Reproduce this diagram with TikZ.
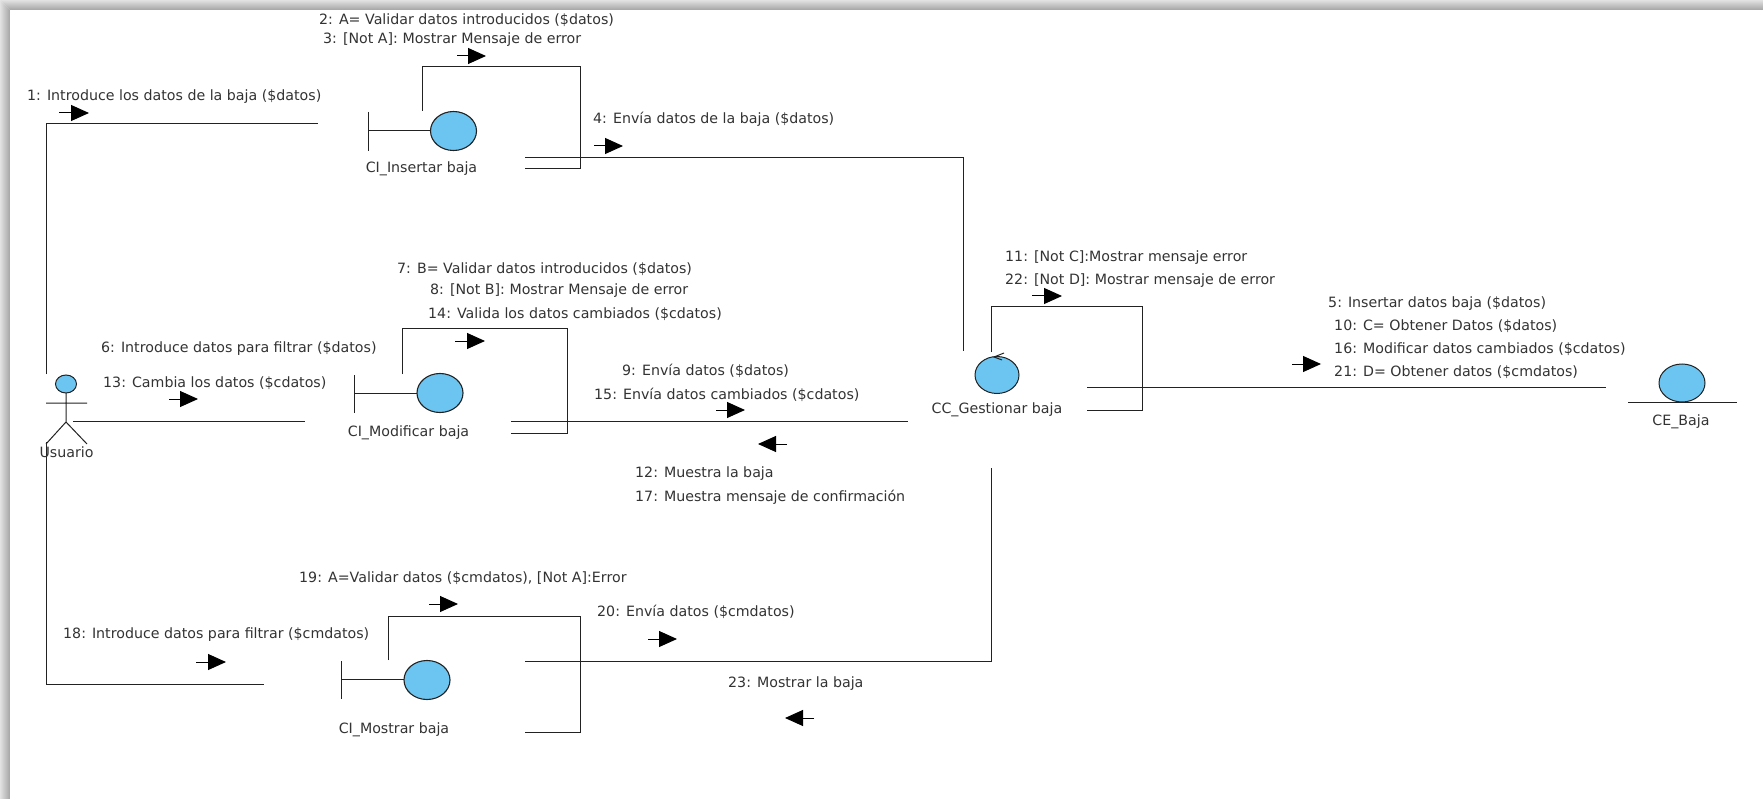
\documentclass[tikz,border=0pt]{standalone}
\usepackage{fontspec}
\setmainfont{DejaVu Sans}
\usetikzlibrary{arrows.meta,shadings}
\definecolor{obj}{HTML}{6CC5F0}
\definecolor{ink}{HTML}{222222}
\definecolor{txt}{HTML}{333333}
\definecolor{bandout}{HTML}{E2E2E2}
\definecolor{bandin}{HTML}{A4A4A4}
\tikzset{
 x=1pt,y=-1pt,
 wire/.style={draw=ink,line width=1pt},
 lbl/.style={font=\fontsize{14.2}{16}\selectfont,text=txt,inner sep=0pt,anchor=west},
 dirar/.style={draw=black,line width=1pt,-{Triangle[length=18pt,width=16pt]}},
}
\newcommand{\objell}[3]{\path[draw=ink,line width=1.1pt,fill=obj] (#1,#2) ellipse [x radius=#3,y radius=19.5];}
\begin{document}
\begin{tikzpicture}
\useasboundingbox (0,0) rectangle (1763,799);
% frame shadow
\fill[white] (0,0) rectangle (1763,799);
\begin{scope}
\clip (0,0) -- (1763,0) -- (1763,10) -- (10,10) -- cycle;
\shade[top color=bandout,bottom color=bandin] (0,0) rectangle (1763,10);
\end{scope}
\begin{scope}
\clip (0,0) -- (10,10) -- (10,799) -- (0,799) -- cycle;
\shade[left color=bandout,right color=bandin] (0,0) rectangle (10,799);
\end{scope}
% coordinates of the free ends
\coordinate (a1) at (46,374);
\coordinate (a1k) at (46,124);
\coordinate (b1) at (318,124);
\coordinate (a2) at (73,421);
\coordinate (b2) at (305,421);
\coordinate (a3) at (46,442);
\coordinate (a3k) at (46,684);
\coordinate (b3) at (264,684);
\draw[wire] (a1) -- (a1k) -- (b1);
\draw[wire] (a2) -- (b2);
\draw[wire] (a3) -- (a3k) -- (b3);
% actor
\node[lbl,anchor=center] (usuario) at (66.5,452) {Usuario};
\draw[wire] (66,393) -- (66,422) (46,403) -- (87,403) (46,444) -- (66,422) -- (87,444);
\draw[wire,fill=obj] (66,384) ellipse [x radius=10.5,y radius=9];
% boundary CI_Insertar
\draw[wire] (368,112) -- (368,151) (368,131) -- (431,131);
\objell{453.5}{131}{23}
\node[lbl,anchor=center] (ci1) at (421.5,169) {CI\_Insertar baja};
\draw[wire] (422,111) -- (422,67) -- (580,67) -- (580,169) -- (525,169);
\draw[wire] (525,158) -- (963,158) -- (963,351);
% boundary CI_Modificar
\draw[wire] (354,375) -- (354,413) (354,393) -- (417,393);
\objell{440}{393}{23}
\node[lbl,anchor=center] (ci2) at (408.5,433) {CI\_Modificar baja};
\draw[wire] (402,374) -- (402,329) -- (567,329) -- (567,433) -- (511,433);
\draw[wire] (511,421) -- (908,421);
% boundary CI_Mostrar
\draw[wire] (341,661) -- (341,699) (341,679.5) -- (404,679.5);
\objell{427}{680}{23}
\node[lbl,anchor=center] (ci3) at (394,730) {CI\_Mostrar baja};
\draw[wire] (388,660) -- (388,616) -- (580,616) -- (580,732) -- (525,732);
\draw[wire] (525,661) -- (991,661) -- (991,468);
% control
\draw[wire,fill=obj] (997,375) ellipse [x radius=22,y radius=18.5];
\draw[wire] (1004,353) -- (994,357) -- (1002,360);
\node[lbl,anchor=center] (cc) at (997,410) {CC\_Gestionar baja};
\draw[wire] (991,352) -- (991,307) -- (1142,307) -- (1142,410) -- (1087,410);
\draw[wire] (1087,387) -- (1606,387);
% entity
\draw[wire,fill=obj] (1682,383) ellipse [x radius=23,y radius=19];
\draw[wire] (1628,402) -- (1737,402);
\node[lbl,anchor=center] (ce) at (1681,422) {CE\_Baja};
% messages
\node[lbl] (m1) at (27,97) {1: Introduce los datos de la baja (\$datos)};
\node[lbl] (m2) at (319,20) {2: A= Validar datos introducidos (\$datos)};
\node[lbl] (m3) at (323,40) {3: [Not A]: Mostrar Mensaje de error};
\node[lbl] (m4) at (593,119) {4: Envía datos de la baja (\$datos)};
\node[lbl] (m7) at (397,269) {7: B= Validar datos introducidos (\$datos)};
\node[lbl] (m8) at (430,291) {8: [Not B]: Mostrar Mensaje de error};
\node[lbl] (m14) at (428,314) {14: Valida los datos cambiados (\$cdatos)};
\node[lbl] (m6) at (101,349) {6: Introduce datos para filtrar (\$datos)};
\node[lbl] (m13) at (103,383) {13: Cambia los datos (\$cdatos)};
\node[lbl] (m9) at (622,371) {9: Envía datos (\$datos)};
\node[lbl] (m15) at (594,395) {15: Envía datos cambiados (\$cdatos)};
\node[lbl] (m12) at (635,474) {12: Muestra la baja};
\node[lbl] (m17) at (635,497) {17: Muestra mensaje de confirmación};
\node[lbl] (m11) at (1005,258) {11: [Not C]:Mostrar mensaje error};
\node[lbl] (m22) at (1005,281) {22: [Not D]: Mostrar mensaje de error};
\node[lbl] (m5) at (1328,304) {5: Insertar datos baja (\$datos)};
\node[lbl] (m10) at (1334,326) {10: C= Obtener Datos (\$datos)};
\node[lbl] (m16) at (1334,349) {16: Modificar datos cambiados (\$cdatos)};
\node[lbl] (m21) at (1334,372) {21: D= Obtener datos (\$cmdatos)};
\node[lbl] (m19) at (299,578) {19: A=Validar datos (\$cmdatos), [Not A]:Error};
\node[lbl] (m20) at (597,612) {20: Envía datos (\$cmdatos)};
\node[lbl] (m18) at (63,635) {18: Introduce datos para filtrar (\$cmdatos)};
\node[lbl] (m23) at (728,684) {23: Mostrar la baja};
% direction arrows
\foreach \xa/\xb/\yy in {59/89/113,457/486/56,594/623/146,455/485/341,169/198/399,716/745/410,787/758/444,1032/1062/296,1292/1321/364,429/458/604,648/677/639,196/226/662,814/785/718}{
  \coordinate (s) at (\xa,\yy); \coordinate (e) at (\xb,\yy);
  \draw[dirar] (s) -- (e);
}
\end{tikzpicture}
\end{document}
